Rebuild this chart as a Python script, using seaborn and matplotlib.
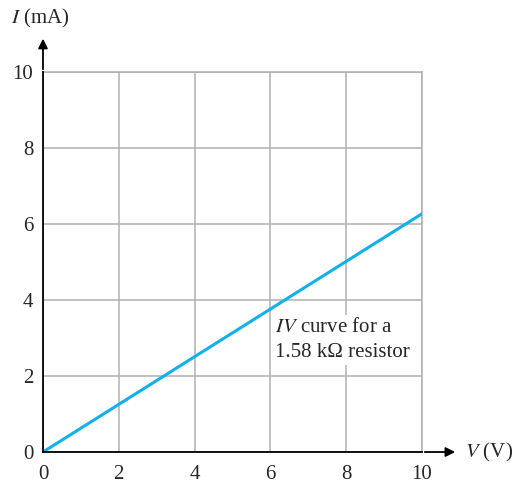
import matplotlib
matplotlib.use("Agg")
import matplotlib.pyplot as plt
import seaborn as sns
import pandas as pd

# IV curve of the resistor
voltage = [0, 10]
current = [0, 6.27]
x_ticks = [0, 2, 4, 6, 8, 10]
y_ticks = [0, 2, 4, 6, 8, 10]

sns.set_style('white')
plt.rcParams['font.family'] = ['Liberation Serif', 'DejaVu Serif']
plt.rcParams['mathtext.fontset'] = 'stix'

data = pd.DataFrame({'V': voltage, 'I': current})

fig = plt.figure(figsize=(5.16, 4.82), dpi=100)
ax = fig.add_axes([0.0833, 0.0622, 0.7345, 0.7884])

sns.lineplot(data=data, x='V', y='I', ax=ax, color='#12b0ea', linewidth=2.2, zorder=3)

ax.set_xlim(0, 10)
ax.set_ylim(0, 10)
ax.set_xticks(x_ticks)
ax.set_yticks(y_ticks)
ax.set_xticklabels([str(t) for t in x_ticks], fontsize=15)
ax.set_yticklabels([str(t) for t in y_ticks], fontsize=15)
ax.tick_params(axis='x', length=0, pad=9)
ax.tick_params(axis='y', length=0, pad=7)
ax.grid(True, color='#b0b0b0', linewidth=1.1)
ax.set_xlabel('')
ax.set_ylabel('')

for side in ['top', 'right']:
    ax.spines[side].set_color('#b0b0b0')
    ax.spines[side].set_linewidth(1.1)
for side in ['left', 'bottom']:
    ax.spines[side].set_color('black')
    ax.spines[side].set_linewidth(1.3)
    ax.spines[side].set_zorder(4)

# axis arrows
ax.annotate('', xy=(0, 1.095), xytext=(0, 1.0), xycoords='axes fraction',
            arrowprops=dict(arrowstyle='-|>', color='black', lw=1.3, mutation_scale=14),
            annotation_clip=False)
ax.annotate('', xy=(1.095, 0), xytext=(1.0, 0), xycoords='axes fraction',
            arrowprops=dict(arrowstyle='-|>', color='black', lw=1.3, mutation_scale=14),
            annotation_clip=False)

fig.text(0.022, 0.962, r'$I$ (mA)', fontsize=15, va='center', ha='left')
fig.text(0.902, 0.062, r'$V$ (V)', fontsize=15, va='center', ha='left')

ax.text(6.12, 2.95, '$IV$ curve for a\n1.58 k\u03a9 resistor', fontsize=15,
        va='center', ha='left', linespacing=1.45, zorder=5,
        bbox=dict(facecolor='white', edgecolor='none', pad=2))

fig.savefig('out.png', dpi=100)
